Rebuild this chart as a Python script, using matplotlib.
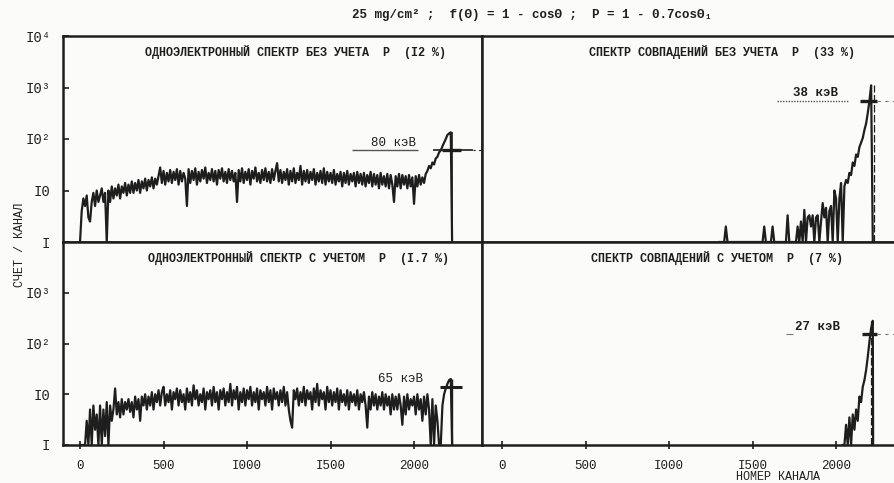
import numpy as np
import matplotlib
matplotlib.use("Agg")
import matplotlib.pyplot as plt

plt.rcParams['font.family'] = ['Liberation Mono', 'DejaVu Sans Mono']

INK = '#1e1e1e'
PAPER = '#fbfbf9'

# channel grid for the single-electron spectra (step 10)
single_ch = list(range(0, 2230, 10))

# one-electron spectrum without P (12 %), counts per channel
# (one row = 100 channels)
tl_counts = [1, 4, 7, 5, 8, 3, 2.5, 6, 9, 5,
             10, 6, 8, 11, 6, 9, 1, 10, 6, 12,
             7, 11, 8, 13, 7, 12, 9, 14, 8, 13,
             9, 15, 9, 14, 10, 16, 9, 15, 11, 17,
             10, 16, 12, 18, 11, 17, 13, 19, 28, 14,
             24, 13, 22, 15, 25, 14, 23, 16, 26, 13,
             24, 15, 22, 17, 5, 26, 14, 24, 16, 27,
             13, 23, 15, 25, 17, 28, 14, 22, 16, 26,
             15, 24, 13, 25, 17, 27, 15, 23, 14, 26,
             16, 24, 15, 22, 6, 25, 15, 27, 14, 23,
             16, 26, 13, 24, 17, 28, 15, 22, 14, 25,
             16, 27, 15, 23, 14, 26, 16, 24, 34, 15,
             25, 14, 23, 16, 26, 13, 24, 15, 27, 14,
             22, 16, 30, 13, 24, 15, 25, 14, 23, 16,
             26, 13, 22, 15, 24, 14, 27, 13, 23, 15,
             22, 14, 25, 13, 21, 15, 23, 12, 22, 14,
             24, 13, 21, 15, 22, 12, 23, 14, 21, 13,
             22, 12, 20, 14, 23, 12, 21, 13, 20, 11,
             22, 13, 19, 12, 21, 11, 20, 13, 6, 19,
             12, 21, 11, 20, 13, 19, 11, 20, 12, 18,
             5.5, 19, 12, 20, 13, 18, 14, 21, 24, 30,
             27, 35, 32, 42, 45, 55, 60, 72, 85, 100,
             120, 128, 135]

# one-electron spectrum with P (1.7 %)
bl_counts = [1, 1, 1, 1, 3, 1, 5, 1, 6, 2,
             4, 1, 6, 1, 5, 1.5, 7, 1, 6, 3,
             5, 13, 4, 7, 3.5, 8, 4, 7, 5, 8,
             4.5, 7, 3.5, 9, 5, 8, 3, 9, 6, 10,
             5, 9, 6, 11, 5, 10, 7, 12, 6, 11,
             14, 6, 10, 7, 12, 5, 11, 8, 13, 6,
             12, 7, 10, 5, 13, 7, 11, 6, 15, 8,
             12, 6, 10, 7, 13, 5, 11, 8, 12, 6,
             14, 7, 11, 5, 12, 8, 13, 6, 11, 7,
             16, 6, 12, 8, 14, 5, 11, 7, 13, 6,
             12, 8, 14, 6, 11, 7, 13, 5, 12, 8,
             11, 6, 14, 7, 12, 5, 13, 8, 11, 6,
             12, 7, 14, 6, 11, 5, 3, 2.2, 12, 8,
             13, 6, 11, 7, 14, 6, 12, 8, 11, 5,
             13, 7, 16, 6, 12, 8, 11, 5, 14, 7,
             12, 6, 11, 7, 13, 5, 12, 7, 10, 6,
             12, 5, 11, 7, 10, 6, 12, 5, 10, 7,
             11, 6, 2.2, 9, 5, 11, 6, 10, 5, 9,
             6, 11, 5, 10, 6, 9, 4, 10, 5, 9,
             5, 10, 6, 2.5, 9, 4, 10, 5, 8, 6,
             9, 4, 10, 5, 8, 3, 9, 4, 10, 5,
             1, 8, 1, 6, 3, 1, 1, 6, 10, 13,
             16, 19, 20]

# coincidence spectra (step 10 near the end of the range)
tr_ch = list(range(1300, 2230, 10))
tr_counts = [1, 1, 1, 1, 2, 1, 1, 1, 1, 1,
             1, 1, 1, 1, 1, 1, 1, 1, 1, 1,
             1, 1, 1, 1, 1, 1, 1, 2, 1, 1,
             1, 1, 2, 1, 1, 1, 1, 1, 1, 1,
             1, 3.3, 1, 1, 1, 1, 1, 2, 1, 2.5,
             1, 4.2, 1, 3, 3.3, 2, 3.3, 1, 3, 3.3,
             1, 2.5, 5.7, 3, 4.6, 1, 4, 5, 1, 10,
             7, 1, 7, 14, 1, 12, 16, 14, 22, 20,
             35, 30, 50, 45, 70, 85, 105, 150, 200, 320,
             550, 1100, 1]

br_ch = list(range(2040, 2230, 10))
br_counts = [1, 1, 2.5, 1, 3.5, 1, 4, 2, 5, 3,
             9, 7, 14, 19, 30, 55, 110, 200, 280]

titles = ['ОДНОЭЛЕКТРОННЫЙ СПЕКТР БЕЗ УЧЕТА  Р  (I2 %)',
          'СПЕКТР СОВПАДЕНИЙ БЕЗ УЧЕТА  Р  (33 %)',
          'ОДНОЭЛЕКТРОННЫЙ СПЕКТР С УЧЕТОМ  Р  (I.7 %)',
          'СПЕКТР СОВПАДЕНИЙ С УЧЕТОМ  Р  (7 %)']
widths = ['80 кэВ', '38 кэВ', '65 кэВ', '27 кэВ']
peak_ch = 2228
xticks = [0, 500, 1000, 1500, 2000]
xticklabels = ['0', '500', 'I000', 'I500', '2000']
top_ylabels = ['I', 'I0', 'I0²', 'I0³', 'I0⁴']
bot_ylabels = ['I', 'I0', 'I0²', 'I0³', '']

fig = plt.figure(figsize=(8.94, 4.83), dpi=100, facecolor=PAPER)
W, H = 894, 483


def box(x0, x1, y0, y1):
    return [x0 / W, 1 - y1 / H, (x1 - x0) / W, (y1 - y0) / H]


ax_tl = fig.add_axes(box(63, 482, 36, 242))
ax_tr = fig.add_axes(box(482, 894, 36, 242))
ax_bl = fig.add_axes(box(63, 482, 242, 445))
ax_br = fig.add_axes(box(482, 894, 242, 445))

for ax in (ax_tl, ax_tr, ax_bl, ax_br):
    ax.set_facecolor(PAPER)
    ax.set_yscale('log')
    ax.set_ylim(1, 1e4)
    for s in ax.spines.values():
        s.set_color(INK)
        s.set_linewidth(1.8)
    ax.tick_params(colors=INK, length=4, width=1.2, direction='in')
    ax.minorticks_off()

for ax in (ax_tl, ax_bl):
    ax.set_xlim(-102, 2407)
for ax in (ax_tr, ax_br):
    ax.set_xlim(-120, 2347)
    ax.spines['right'].set_visible(False)
    ax.set_yticks([])

ax_tl.set_yticks([1, 10, 100, 1000, 10000])
ax_tl.set_yticklabels(top_ylabels, fontsize=10)
ax_bl.set_yticks([1, 10, 100, 1000, 10000])
ax_bl.set_yticklabels(bot_ylabels, fontsize=10)
ax_tl.tick_params(axis='y', pad=9)
ax_bl.tick_params(axis='y', pad=9)

for ax in (ax_tl, ax_tr):
    ax.set_xticks([])
for ax in (ax_bl, ax_br):
    ax.set_xticks(xticks)
    ax.set_xticklabels(xticklabels, fontsize=9)
    ax.tick_params(axis='x', direction='inout', length=6, pad=8)

# spectra
ax_tl.plot(single_ch + [peak_ch], tl_counts + [1], color=INK, lw=1.6)
ax_bl.plot(single_ch + [peak_ch], bl_counts + [1], color=INK, lw=1.6)
ax_tr.plot(tr_ch, tr_counts, color=INK, lw=1.6)
ax_br.plot(br_ch + [2222], br_counts + [1], color=INK, lw=1.6)

# peak markers and widths
ax_tl.vlines(peak_ch, 1, 135, color=INK, lw=1.2)
ax_tl.hlines(61, 2115, 2355, color=INK, lw=1.2)
ax_tl.hlines(61, 2170, 2280, color=INK, lw=2.4)
ax_tl.hlines(61, 2355, 2407, color=INK, lw=0.8, ls=(0, (2, 3)))
ax_tl.hlines(61, 1630, 2025, color='#555555', lw=1.0)
ax_tl.text(1880, 82, widths[0], fontsize=9, ha='center', va='center', color=INK)

ax_tr.vlines(peak_ch, 1, 1100, color=INK, lw=0.9, ls=(0, (6, 2)))
ax_tr.hlines(550, 2144, 2246, color=INK, lw=2.4)
ax_tr.hlines(550, 2246, 2347, color='#777777', lw=0.8, ls=(0, (3, 4)))
ax_tr.hlines(550, 1647, 2072, color='#555555', lw=1.0, ls=(0, (1, 1)))
ax_tr.text(1875, 780, widths[1], fontsize=9, ha='center', va='center', color=INK,
           weight='bold')

ax_bl.vlines(peak_ch, 1, 20, color=INK, lw=1.0)
ax_bl.hlines(14, 2157, 2290, color=INK, lw=2.2)
ax_bl.text(1917, 20, widths[2], fontsize=9, ha='center', va='center', color=INK)

ax_br.vlines(2212, 1, 280, color=INK, lw=0.9, ls=(0, (6, 2)))
ax_br.hlines(155, 2156, 2246, color=INK, lw=2.4)
ax_br.hlines(155, 2246, 2347, color='#777777', lw=0.8, ls=(0, (3, 4)))
ax_br.hlines(155, 1700, 1740, color='#777777', lw=0.8)
ax_br.text(1887, 213, widths[3], fontsize=9, ha='center', va='center', color=INK,
           weight='bold')

# panel captions
for ax, t, xf in zip((ax_tl, ax_tr, ax_bl, ax_br), titles, (0.556, 0.583, 0.561, 0.570)):
    ax.text(xf, 0.922, t, transform=ax.transAxes, fontsize=8.5, weight='bold',
            ha='center', va='center', color=INK)

fig.text(532 / W, 1 - 15 / H, '25 mg/cm² ;  f(Θ) = 1 - cosΘ ;  P = 1 - 0.7cosΘ₁',
         fontsize=9, weight='bold', ha='center', va='center', color=INK)
fig.text(20 / W, 1 - 245 / H, 'СЧЕТ / КАНАЛ', rotation=90, fontsize=8.5,
         ha='center', va='center', color=INK)
fig.text(778 / W, 1 - 477 / H, 'НОМЕР КАНАЛА', fontsize=8.5,
         ha='center', va='center', color=INK)

fig.savefig('out.png', dpi=100, facecolor=PAPER)
